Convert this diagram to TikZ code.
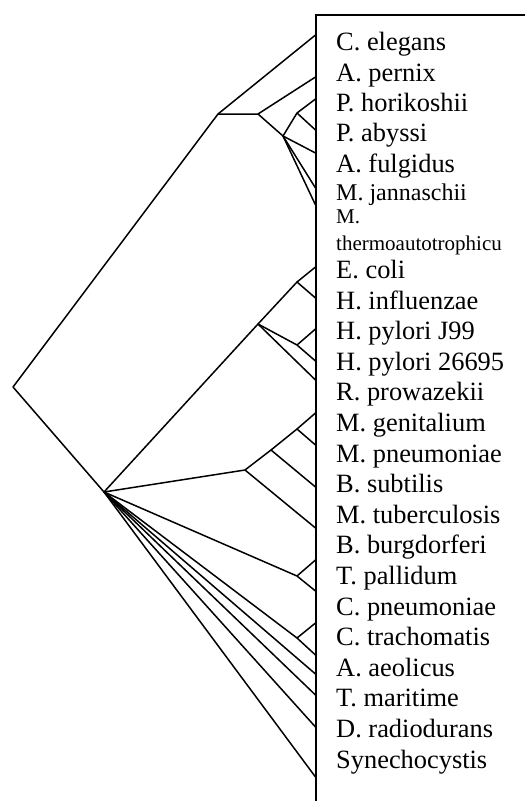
\documentclass[tikz,border=0pt]{standalone}
\usepackage{fontspec}
\setmainfont{Liberation Serif}

\tikzset{
  branch/.style={line width=1.5pt, line join=round},
  frame/.style={line width=2pt},
  taxon/.style={anchor=base west, inner sep=0pt, font=\fontsize{26.4}{30}\selectfont},
  taxonmd/.style={anchor=base west, inner sep=0pt, font=\fontsize{24}{27}\selectfont},
  taxonsm/.style={anchor=base west, inner sep=0pt, font=\fontsize{21}{24}\selectfont}
}

\begin{document}
\begin{tikzpicture}[x=1pt, y=-1pt]
\useasboundingbox (0,0) rectangle (525,801);
%% frame round the names
\draw[frame] (315.5,801) |- (525,14.5);
%% leaf ends on the frame
\foreach \y [count=\i] in {35,77,99,130,153,188,205,267,298,329,361,380,413,445,487,528,560,591,623,655,674,695,727,777}
  \coordinate (t\i) at (315.5,\y);
%% inner nodes
\coordinate (root) at (13,387);
\coordinate (top)  at (218,114);
\coordinate (arc)  at (258,114);
\coordinate (eury) at (283,136);
\coordinate (pyro) at (297,113);
\coordinate (bac)  at (104,492);
\coordinate (prot) at (258,324);
\coordinate (ent)  at (297,282);
\coordinate (hpy)  at (297,345);
\coordinate (gram) at (245,470);
\coordinate (mycA) at (271,450);
\coordinate (mycB) at (297,429);
\coordinate (spir) at (297,576);
\coordinate (chla) at (297,638);
%% upper clade
\draw[branch] (root) -- (top) -- (t1);
\draw[branch] (top) -- (arc) -- (t2);
\draw[branch] (arc) -- (eury) -- (pyro) -- (t3);
\draw[branch] (pyro) -- (t4);
\foreach \i in {5,6,7}
  \draw[branch] (eury) -- (t\i);
%% lower clade
\draw[branch] (root) -- (bac);
\draw[branch] (bac) -- (prot) -- (ent) -- (t8);
\draw[branch] (ent) -- (t9);
\draw[branch] (prot) -- (hpy) -- (t10);
\draw[branch] (hpy) -- (t11);
\draw[branch] (prot) -- (t12);
\draw[branch] (bac) -- (gram) -- (mycA) -- (mycB) -- (t13);
\draw[branch] (mycB) -- (t14);
\draw[branch] (mycA) -- (t15);
\draw[branch] (gram) -- (t16);
\draw[branch] (bac) -- (spir) -- (t17);
\draw[branch] (spir) -- (t18);
\draw[branch] (bac) -- (chla) -- (t19);
\draw[branch] (chla) -- (t20);
\foreach \i in {21,22,23,24}
  \draw[branch] (bac) -- (t\i);
%% names
\foreach \name/\y [count=\i] in {C. elegans/50, A. pernix/81, P. horikoshii/111, P. abyssi/141, A. fulgidus/172}
  \node[taxon] (u\i) at (336,\y) {\name};
\node[taxonmd] (u6) at (336,200) {M. jannaschii};
\node[taxonsm] (u7) at (336,223) {M.};
\node[taxonsm] (u8) at (336,250) {thermoautotrophicu};
\foreach \name [count=\k from 0] in {E. coli, H. influenzae, H. pylori J99, H. pylori 26695, R. prowazekii, M. genitalium, M. pneumoniae, B. subtilis, M. tuberculosis, B. burgdorferi, T. pallidum, C. pneumoniae, C. trachomatis, A. aeolicus, T. maritime, D. radiodurans, Synechocystis}
  \node[taxon] (l\k) at (336,278.5+30.6*\k) {\name};
\end{tikzpicture}
\end{document}
